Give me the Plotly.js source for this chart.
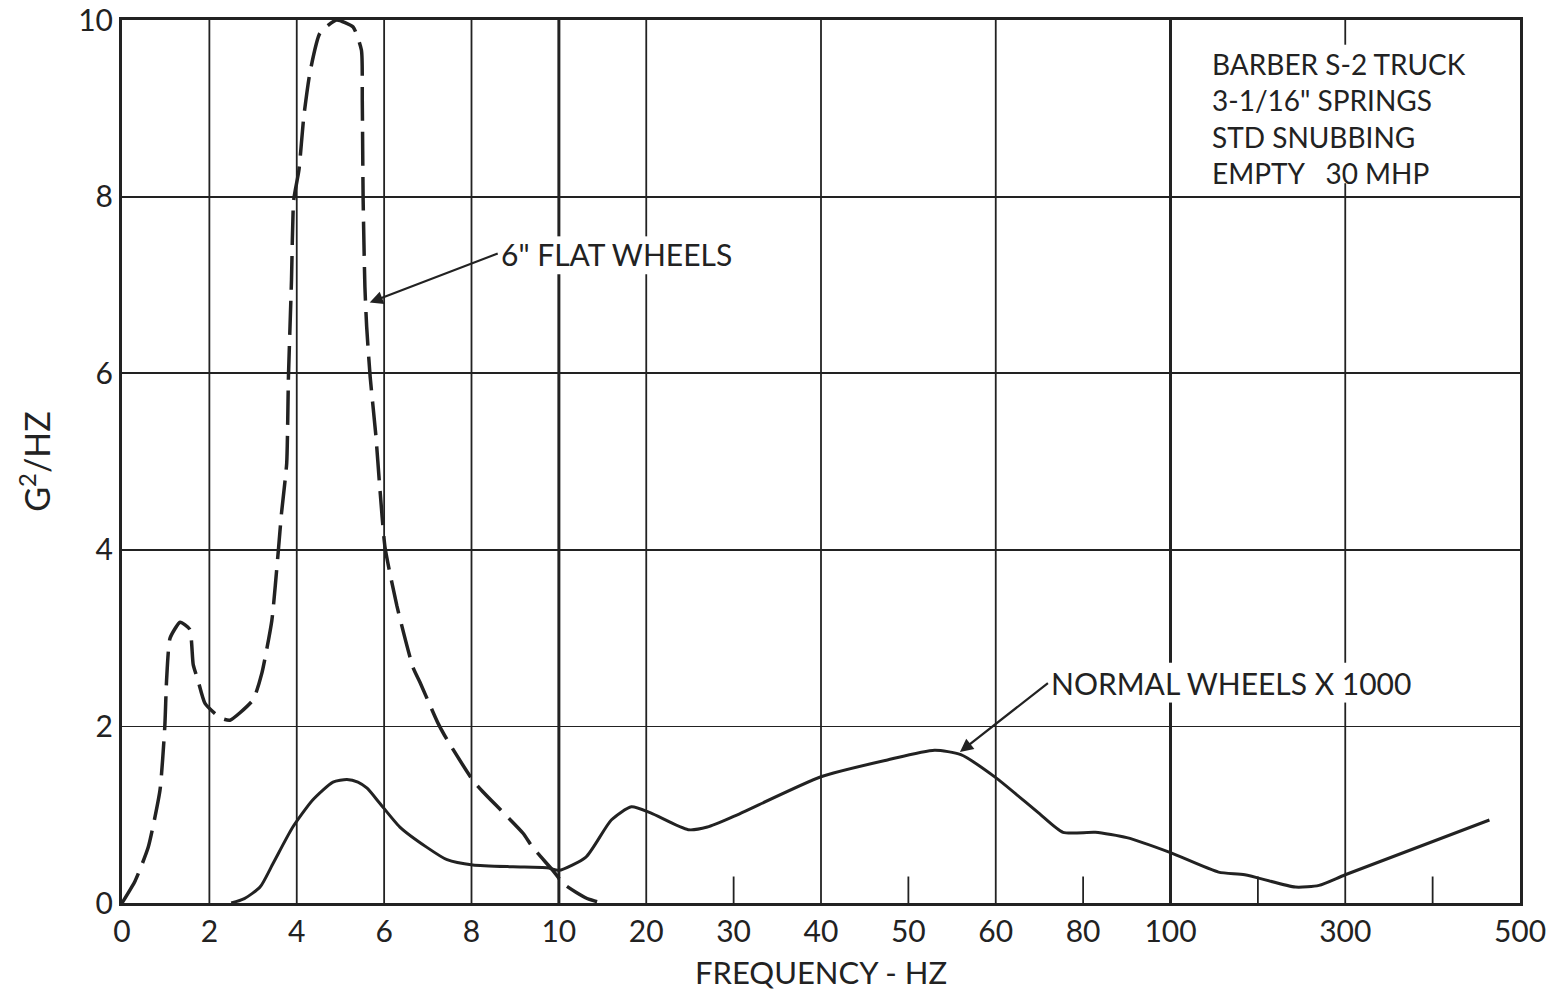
<!DOCTYPE html>
<html>
<head>
<meta charset="utf-8">
<script src="https://cdn.plot.ly/plotly-3.0.1.min.js"></script>
<style>html,body{margin:0;padding:0;background:#fff;}#chart{width:1550px;height:993px;}</style>
</head>
<body>
<div id="chart"></div>
<script>
// Tick positions of the segmented frequency axis (equally spaced on the paper)
const tickFreq = [0, 2, 4, 6, 8, 10, 20, 30, 40, 50, 60, 80, 100, 200, 300, 400, 500];
const tickText = ['0', '2', '4', '6', '8', '10', '20', '30', '40', '50', '60', '80', '100', '', '300', '', '500'];
const fullGridFreq = [2, 4, 6, 8, 10, 20, 40, 60, 100, 300];
const heavyGridFreq = [10, 100];
const shortTickFreq = [30, 50, 80, 200, 400];

// 6" flat wheels (dashed)
const flatFreq = [0, 0.3, 0.6, 0.87, 0.98, 1.02, 1.1, 1.33, 1.55, 1.63, 1.74, 1.9, 2.24, 2.47, 3.0, 3.2, 3.43, 3.58, 3.65, 3.77, 3.81, 3.88, 3.93, 4.05, 4.16, 4.3, 4.53, 4.91, 5.29, 5.48, 5.5, 5.52, 5.56, 5.6, 5.68, 5.81, 5.9, 6.02, 6.29, 6.66, 6.82, 7.23, 7.44, 8.03, 8.26, 9.18, 9.4, 9.86, 10.5, 12, 13.5, 15];
const flatVal  = [0, 0.25, 0.63, 1.28, 2.0, 2.52, 3.0, 3.18, 3.1, 2.7, 2.52, 2.26, 2.1, 2.07, 2.3, 2.6, 3.2, 4.0, 4.41, 4.98, 5.96, 7.06, 7.96, 8.3, 8.9, 9.4, 9.85, 10.0, 9.92, 9.66, 9.09, 7.96, 6.98, 6.53, 5.96, 5.3, 4.71, 4.03, 3.37, 2.67, 2.5, 2.04, 1.85, 1.39, 1.26, 0.79, 0.63, 0.37, 0.22, 0.12, 0.04, 0];

// Normal wheels x 1000 (solid)
const normFreq = [2.5, 2.8, 3.16, 3.46, 3.91, 4.37, 4.83, 5.15, 5.4, 5.61, 5.9, 6.36, 6.98, 7.44, 8.03, 8.95, 9.73, 10, 13.1, 16, 18.3, 20.5, 24.8, 27, 30, 40, 47.6, 53, 56, 60, 69.8, 75.4, 82.8, 90, 100, 155, 185, 243, 270, 300, 465];
const normVal  = [0, 0.05, 0.18, 0.45, 0.86, 1.17, 1.37, 1.4, 1.37, 1.3, 1.13, 0.86, 0.63, 0.49, 0.43, 0.41, 0.40, 0.37, 0.52, 0.94, 1.09, 1.02, 0.83, 0.86, 0.98, 1.43, 1.62, 1.73, 1.68, 1.42, 1.02, 0.8, 0.8, 0.74, 0.57, 0.35, 0.32, 0.18, 0.2, 0.32, 0.94];

const infoLines = ['BARBER S-2 TRUCK', '3-1/16" SPRINGS', 'STD SNUBBING', 'EMPTY &nbsp;&nbsp;30 MHP'];

// map a frequency onto the equally spaced tick index axis
function pos(f) {
  for (let i = 0; i < tickFreq.length - 1; i++) {
    if (f <= tickFreq[i + 1]) return i + (f - tickFreq[i]) / (tickFreq[i + 1] - tickFreq[i]);
  }
  return tickFreq.length - 1;
}

// only the labelled ticks carry text
const labelled = tickFreq.map((f, i) => i).filter(i => tickText[i] !== '');

const ink = '#222';
const FONT = 'Lato, "Noto Sans", sans-serif';

const traces = [
  {x: flatFreq.map(pos), y: flatVal, mode: 'lines', type: 'scatter',
   line: {color: ink, width: 3.5, dash: '34px,11px', shape: 'spline', smoothing: 0.5},
   hoverinfo: 'skip', showlegend: false},
  {x: normFreq.map(pos), y: normVal, mode: 'lines', type: 'scatter',
   line: {color: ink, width: 3, shape: 'spline', smoothing: 0.6},
   hoverinfo: 'skip', showlegend: false}
];

// gaps left in the vertical rules behind the label texts: [x0, x1] on the tick-index axis, [y0, y1] in G2/Hz
const knockouts = [
  [12.31, 15.71, 8.15, 9.72],
  [4.28, 7.08, 7.12, 7.55],
  [10.6, 14.85, 2.27, 2.72]
];

const shapes = [];
fullGridFreq.forEach(f => {
  const p = pos(f);
  const gaps = knockouts.filter(k => p > k[0] && p < k[1]).map(k => [k[2], k[3]]).sort((a, b) => a[0] - b[0]);
  let start = 0;
  const segs = [];
  gaps.forEach(g => { segs.push([start, g[0]]); start = g[1]; });
  segs.push([start, 10]);
  segs.forEach(s => shapes.push({type: 'line', xref: 'x', yref: 'y', x0: p, x1: p, y0: s[0], y1: s[1],
    line: {color: ink, width: heavyGridFreq.includes(f) ? 3 : 1.8}, layer: 'below'}));
});
shortTickFreq.forEach(f => shapes.push({type: 'line', xref: 'x', yref: 'y', x0: pos(f), x1: pos(f), y0: 0, y1: 0.3,
  line: {color: ink, width: 1.8}, layer: 'below'}));

const annotations = [
  {xref: 'paper', yref: 'paper', x: 0.778, y: 0.972, xanchor: 'left', yanchor: 'top', align: 'left',
   showarrow: false, text: infoLines.join('<br>'), font: {family: FONT, size: 28, color: ink}},
  {x: pos(5.67), y: 6.8, xref: 'x', yref: 'y', text: '6" FLAT WHEELS', showarrow: true,
   ax: 128, ay: -49, xanchor: 'left', arrowhead: 2, arrowsize: 1.2, arrowwidth: 2.2, arrowcolor: ink,
   borderpad: 2, font: {family: FONT, size: 30, color: ink}},
  {x: pos(55.9), y: 1.71, xref: 'x', yref: 'y', text: 'NORMAL WHEELS X 1000', showarrow: true,
   ax: 88, ay: -69, xanchor: 'left', arrowhead: 2, arrowsize: 1.2, arrowwidth: 2.2, arrowcolor: ink,
   borderpad: 2, font: {family: FONT, size: 30, color: ink}}
];

const layout = {
  width: 1550, height: 993,
  margin: {l: 122, r: 30, t: 20, b: 90},
  paper_bgcolor: '#fff', plot_bgcolor: '#fff',
  font: {family: FONT, color: ink, size: 30},
  xaxis: {range: [0, 16], tickmode: 'array',
    tickvals: labelled.map(i => pos(tickFreq[i])), ticktext: labelled.map(i => tickText[i]),
    showgrid: false, zeroline: false, showline: true, mirror: true, linecolor: ink, linewidth: 3,
    ticks: '', tickfont: {family: FONT, size: 30, color: ink}, fixedrange: true,
    title: {text: 'FREQUENCY - HZ', font: {family: FONT, size: 31, color: ink}, standoff: 16}},
  yaxis: {range: [0, 10], tickmode: 'array', tickvals: [0, 2, 4, 6, 8, 10],
    showgrid: true, gridcolor: ink, gridwidth: 1.8, zeroline: false, showline: true, mirror: true,
    linecolor: ink, linewidth: 3, ticks: '', tickfont: {family: FONT, size: 30, color: ink}, fixedrange: true,
    title: {text: 'G<sup>2</sup>/HZ', font: {family: FONT, size: 34, color: ink}, standoff: 18}},
  shapes: shapes,
  annotations: annotations,
  showlegend: false
};

Plotly.newPlot('chart', traces, layout, {displayModeBar: false, staticPlot: true});
</script>
</body>
</html>
